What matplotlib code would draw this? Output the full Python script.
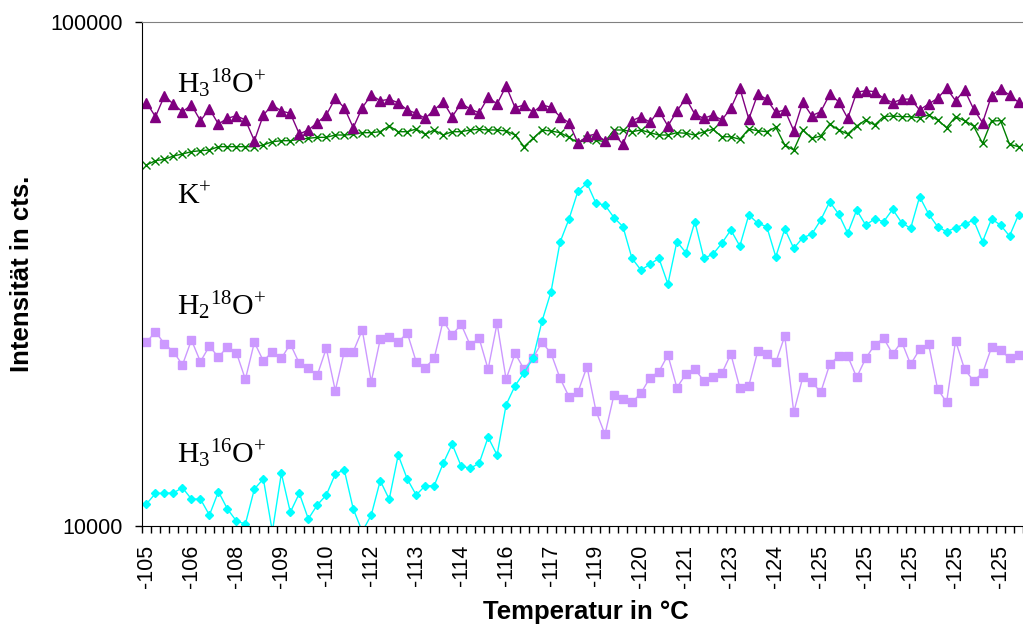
import numpy as np
import matplotlib
matplotlib.use("Agg")
import matplotlib.pyplot as plt
from matplotlib.ticker import FixedLocator, NullLocator

plt.rcParams['mathtext.fontset'] = 'custom'
plt.rcParams['mathtext.rm'] = 'Liberation Serif'
plt.rcParams['mathtext.it'] = 'Liberation Serif:italic'
plt.rcParams['font.family'] = ['Liberation Sans', 'DejaVu Sans']

# ---- data ----
x_tick_labels = ['-105', '-106', '-108', '-109', '-110', '-112', '-113', '-114', '-116', '-117',
                 '-119', '-120', '-121', '-123', '-124', '-125', '-125', '-125', '-125', '-125']

cyan_diamonds = [11060, 11610, 11610, 11640, 11910, 11310, 11310, 10510, 11700, 10810,
                 10230, 10090, 11840, 12400, 9750, 12720, 10650, 11610, 10330, 11010,
                 11520, 12680, 12920, 10810, 9750, 10510, 12300, 11300, 13830, 12400,
                 11520, 12020, 12020, 13310, 14530, 13150, 13020, 13310, 15000, 13830,
                 17390, 18980, 20150, 21510, 25510, 29170, 36560, 40660, 46200, 47860,
                 43680, 43340, 40910, 39260, 33980, 32200, 33050, 33980, 30210, 36660,
                 34860, 40160, 33980, 34600, 36390, 38670, 35940, 41420, 39860, 39260,
                 34220, 38850, 35560, 37330, 37920, 40470, 44000, 41550, 38090, 42360,
                 39550, 40660, 40160, 42500, 39970, 38960, 45010, 41600, 39260, 38370,
                 39070, 39680, 40470, 36660, 40660, 39550, 37620, 41420]

lilac_squares = [23150, 24300, 22970, 22180, 20870, 23390, 21180, 22760, 21610, 22690,
                 22080, 19550, 23150, 21250, 22180, 21510, 22970, 21020, 20550, 19930,
                 22520, 18560, 22180, 22180, 24490, 19330, 23470, 23750, 23150, 24180,
                 21180, 20610, 21510, 25550, 23930, 25130, 22870, 23580, 20460, 25250,
                 19550, 22010, 20460, 21570, 23150, 22010, 19640, 18050, 18450, 20710,
                 16910, 15200, 18200, 17840, 17600, 18340, 19690, 20240, 21840, 18810,
                 20020, 20490, 19400, 19720, 20090, 21940, 18810, 18980, 22250, 21940,
                 21120, 23820, 16810, 19720, 19330, 18420, 20930, 21740, 21740, 19720,
                 21510, 22870, 23580, 21940, 23210, 20930, 22410, 22970, 18700, 17600,
                 23310, 20460, 19420, 20090, 22620, 22350, 21510, 21840]

purple_triangles = [69180, 64880, 71410, 68670, 66370, 68450, 63710, 67200, 62750, 64400,
                    65180, 63910, 58140, 65390, 68450, 66590, 65890, 59950, 61050, 63130,
                    65390, 70560, 67610, 61700, 67610, 71640, 69790, 70240, 69180, 66900,
                    65890, 64400, 66900, 69490, 64880, 68980, 67200, 66070, 70890, 68770,
                    74640, 67610, 68450, 66190, 68450, 67730, 64880, 63130, 57450, 59400,
                    59950, 58060, 59950, 57190, 63710, 64880, 63240, 66680, 62180, 66590,
                    70560, 65600, 64400, 65390, 63910, 67420, 73870, 64200, 71960, 70240,
                    66190, 66900, 60860, 69300, 65180, 66370, 71860, 69490, 64400, 72530,
                    73070, 72730, 70560, 69180, 70240, 70340, 66900, 68770, 70560, 73870,
                    69790, 73300, 67200, 63130, 71410, 73640, 71640, 69300]

green_crosses = [52040, 53070, 53410, 54220, 54720, 55300, 55550, 55720, 56570, 56570,
                 56570, 56570, 56570, 57020, 57870, 58140, 58140, 58510, 58770, 59040,
                 59040, 59670, 59670, 59860, 60310, 60310, 60580, 62180, 60580, 60580,
                 61330, 59860, 61050, 59670, 60580, 60580, 61050, 61250, 61050, 61050,
                 60780, 59670, 56570, 58770, 61050, 60780, 60310, 59040, 57600, 58510,
                 58320, 57870, 61050, 61050, 60580, 61050, 60310, 59670, 59670, 60310,
                 60150, 59670, 60580, 61250, 59200, 59200, 58510, 61330, 60860, 60580,
                 61810, 57020, 55720, 61050, 58770, 59400, 62750, 61050, 59950, 62180,
                 63910, 62460, 64880, 65090, 64880, 64880, 64580, 65390, 63910, 61700,
                 64880, 63710, 62180, 57450, 63620, 63710, 57190, 56570]

series_labels = [r'H$_\mathrm{3}$$^\mathrm{18}$O$^\mathrm{+}$', r'K$^\mathrm{+}$',
                 r'H$_\mathrm{2}$$^\mathrm{18}$O$^\mathrm{+}$', r'H$_\mathrm{3}$$^\mathrm{16}$O$^\mathrm{+}$']

# ---- figure ----
W, H = 1023, 629
fig = plt.figure(figsize=(W / 100, H / 100), dpi=100)
ax = fig.add_axes([142 / W, 1 - 526 / H, 881 / W, 504 / H])

n = len(cyan_diamonds)
x = np.arange(n)

ax.plot(x, lilac_squares, color='#CC99FF', lw=1.0, marker='s', ms=5.2, mec='#CC99FF', mfc='#CC99FF')
ax.plot(x, cyan_diamonds, color='#00FFFF', lw=1.0, marker='D', ms=4.5, mec='#00FFFF', mfc='#00FFFF')
ax.plot(x, green_crosses, color='#008000', lw=1.0, marker='x', ms=6, mew=1.0, mec='#008000')
ax.plot(x, purple_triangles, color='#800080', lw=1.0, marker='^', ms=6.5, mec='#800080', mfc='#800080')

ax.set_yscale('log')
ax.set_ylim(10000, 100000)
ax.set_xlim(-0.5, n - 0.5)
ax.yaxis.set_major_locator(FixedLocator([10000, 100000]))
ax.yaxis.set_minor_locator(NullLocator())
ax.set_yticklabels(['10000', '100000'])
ax.tick_params(axis='y', which='major', length=5, width=1, direction='out', pad=8.5, labelsize=15.5)

ax.xaxis.set_major_locator(FixedLocator(np.arange(0, n, 5)[:len(x_tick_labels)]))
ax.set_xticklabels(x_tick_labels, rotation=90)
ax.xaxis.set_minor_locator(FixedLocator(np.arange(-0.5, n, 1.0)))
ax.tick_params(axis='x', which='major', length=0, pad=13.5, labelsize=15.5)
ax.tick_params(axis='x', which='minor', length=5, width=1, direction='out')

ax.spines['right'].set_visible(False)
ax.spines['top'].set_color('#808080')
ax.spines['left'].set_color('black')
ax.spines['bottom'].set_color('black')

ax.set_ylabel('Intensität in cts.', fontsize=18.5, fontweight='bold', labelpad=0)
ax.yaxis.set_label_coords(-(142 - 22) / 881, 0.5)
ax.set_xlabel('Temperatur in °C', fontsize=18.5, fontweight='bold')
ax.xaxis.set_label_coords(0.5 + (586 - 142 - 440.5) / 881, -(612 - 526) / 504)
ax.xaxis.label.set_verticalalignment('center')
ax.yaxis.label.set_verticalalignment('center')

label_baselines = [93, 204, 315, 463]
for lab, yb in zip(series_labels, label_baselines):
    fig.text(177 / W, 1 - yb / H, lab, fontsize=21.5, family='Liberation Serif',
             ha='left', va='baseline')

fig.savefig('out.png', dpi=100)
